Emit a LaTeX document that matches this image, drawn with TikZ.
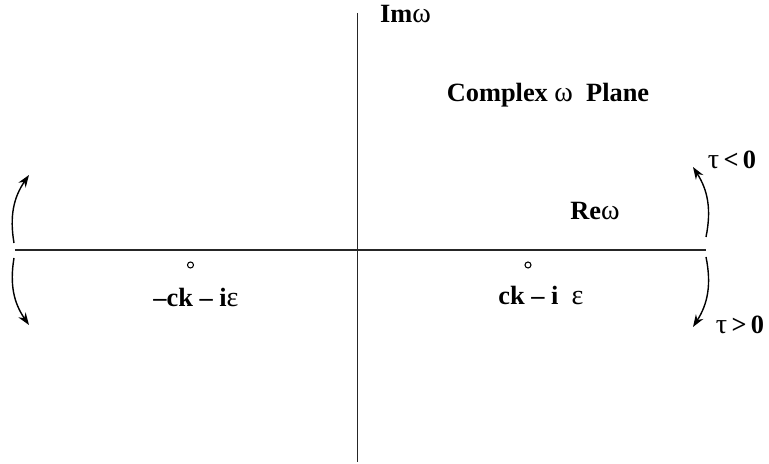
\documentclass[tikz,border=0pt]{standalone}
\usepackage{fontspec}
\setmainfont{Liberation Serif}
\usepackage{tikz}
\usetikzlibrary{arrows.meta}

\newcommand{\gk}[1]{{\mdseries\fontsize{16}{18}\selectfont #1}}

\tikzset{
  lbl/.style={font=\fontsize{15}{18}\selectfont\bfseries, inner sep=0pt},
  axis/.style={line width=0.9pt, black!85},
  swing/.style={-{Stealth[length=7pt,width=5pt]}, line width=0.8pt}
}

\begin{document}
\begin{tikzpicture}[scale=1]
\useasboundingbox (-7.15,-4.28) rectangle (8.23,5.0);

% axes
\coordinate (xl) at (-6.85,0);
\coordinate (xr) at (6.97,0);
\coordinate (yt) at (0,4.74);
\coordinate (yb) at (0,-4.24);
\draw[axis] (xl) -- (xr);
\draw[axis] (yt) -- (yb);

% labels
\node[lbl] (im) at (0.96,4.72) {Im\gk{ω}};
\node[lbl] (plane) at (3.81,3.1) {Complex \gk{ω}\ \ Plane};
\node[lbl] (re) at (4.75,0.78) {Re\gk{ω}};

% poles
\node[draw, circle, inner sep=0pt, minimum size=0.12cm, line width=0.6pt] (pl) at (-3.34,-0.3) {};
\node[draw, circle, inner sep=0pt, minimum size=0.12cm, line width=0.6pt] (pr) at (3.41,-0.3) {};
\node[lbl] (ml) at (-3.23,-0.96) {–ck – i\gk{ε}};
\node[lbl] (mr) at (3.67,-0.92) {ck – i\ \ \gk{ε}};

% rotations, left
\coordinate (lu0) at (-6.87,0.14);
\coordinate (lu1) at (-6.57,1.5);
\coordinate (ld0) at (-6.87,-0.16);
\coordinate (ld1) at (-6.57,-1.5);
\draw[swing] (lu0) to[bend left=22] (lu1);
\draw[swing] (ld0) to[bend right=22] (ld1);

% rotations, right
\coordinate (ru0) at (6.97,0.26);
\coordinate (ru1) at (6.71,1.66);
\coordinate (rd0) at (6.97,-0.14);
\coordinate (rd1) at (6.71,-1.54);
\draw[swing] (ru0) to[bend right=22] (ru1);
\draw[swing] (rd0) to[bend left=22] (rd1);

\node[lbl] (tneg) at (7.49,1.8) {\gk{τ}\,<\,0};
\node[lbl] (tpos) at (7.65,-1.5) {\gk{τ}\,>\,0};

\end{tikzpicture}
\end{document}
